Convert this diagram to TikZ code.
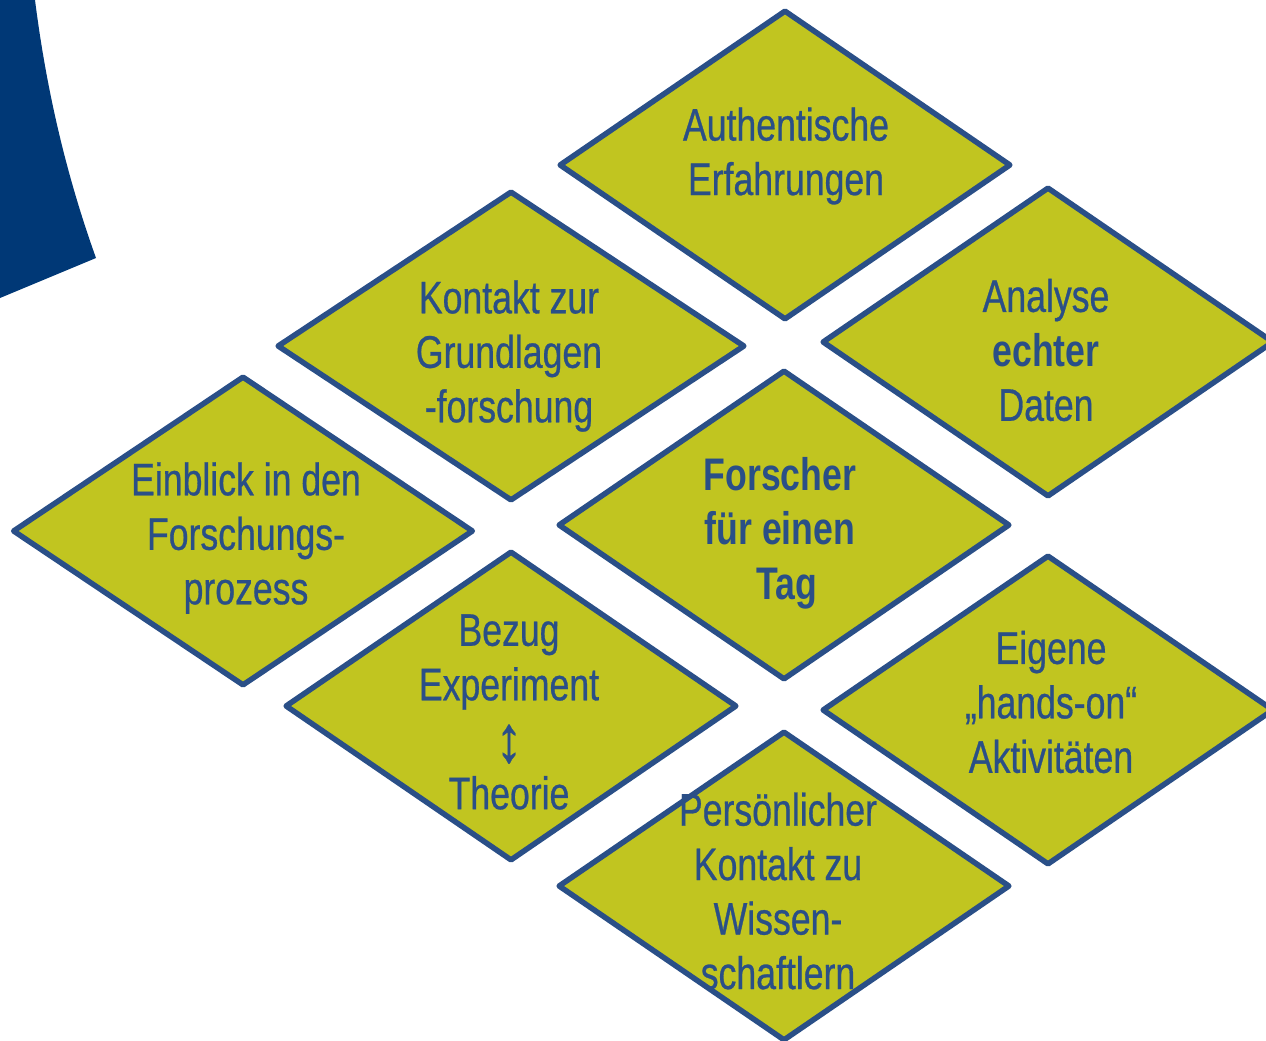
\documentclass[tikz,border=0pt]{standalone}
\usepackage{fontspec}
\setmainfont{Liberation Sans}[FakeStretch=0.78,UprightFeatures={FakeBold=0.6}]
\usetikzlibrary{shapes.geometric}
\definecolor{olive}{HTML}{C1C520}
\definecolor{navy}{HTML}{2A4F87}
\definecolor{arcblue}{HTML}{003876}
\newcommand{\updown}{\smash{\raisebox{-4pt}{\scalebox{1.5}[1.45]{↕}}}}
\begin{document}
\begin{tikzpicture}[x=0.02cm,y=-0.02cm,
  tile/.style={diamond,draw=navy,fill=olive,line width=0.11cm,line join=round,
    minimum width=452*0.02cm,minimum height=310*0.02cm,inner sep=0pt},
  label/.style={text=navy,align=center,font=\fontsize{26}{31}\selectfont}]
\useasboundingbox (0,0) rectangle (1266,1040);
\clip (0,0) rectangle (1266,1040);
% corner band
\fill[arcblue] (0,0) -- (35,0) .. controls (47,95) and (68,180) .. (96,258) -- (0,298) -- cycle;
% tiles
\node[tile] (d1) at (785,165) {};
\node[tile,minimum width=468*0.02cm] (d2) at (511,346) {};
\node[tile] (d3) at (1048,342) {};
\node[tile,minimum width=461*0.02cm] (d4) at (243,531) {};
\node[tile] (d5) at (784,525) {};
\node[tile] (d6) at (511,706) {};
\node[tile] (d7) at (1048,710) {};
\node[tile] (d8) at (784,886) {};
% captions
\node[label] (t1) at (786,156) {Authentische\\Erfahrungen};
\node[label] (t2) at (509,356) {Kontakt zur\\Grundlagen\\-forschung};
\node[label] (t3) at (1046,350) {Analyse\\\textbf{echter}\\Daten};
\node[label] (t4) at (246,538) {Einblick in den\\Forschungs-\\prozess};
\node[label,font=\bfseries\fontsize{26}{31}\selectfont] (t5) at (780,533) {Forscher\\für einen\\\hspace*{8pt}Tag};
\node[label] (t6) at (509,712) {Bezug\\Experiment\\\updown\\Theorie};
\node[label] (t7) at (1051,702) {Eigene\\„hands-on“\\Aktivitäten};
\node[label] (t8) at (778,891) {Persönlicher\\Kontakt zu\\Wissen-\\schaftlern};
\end{tikzpicture}
\end{document}
